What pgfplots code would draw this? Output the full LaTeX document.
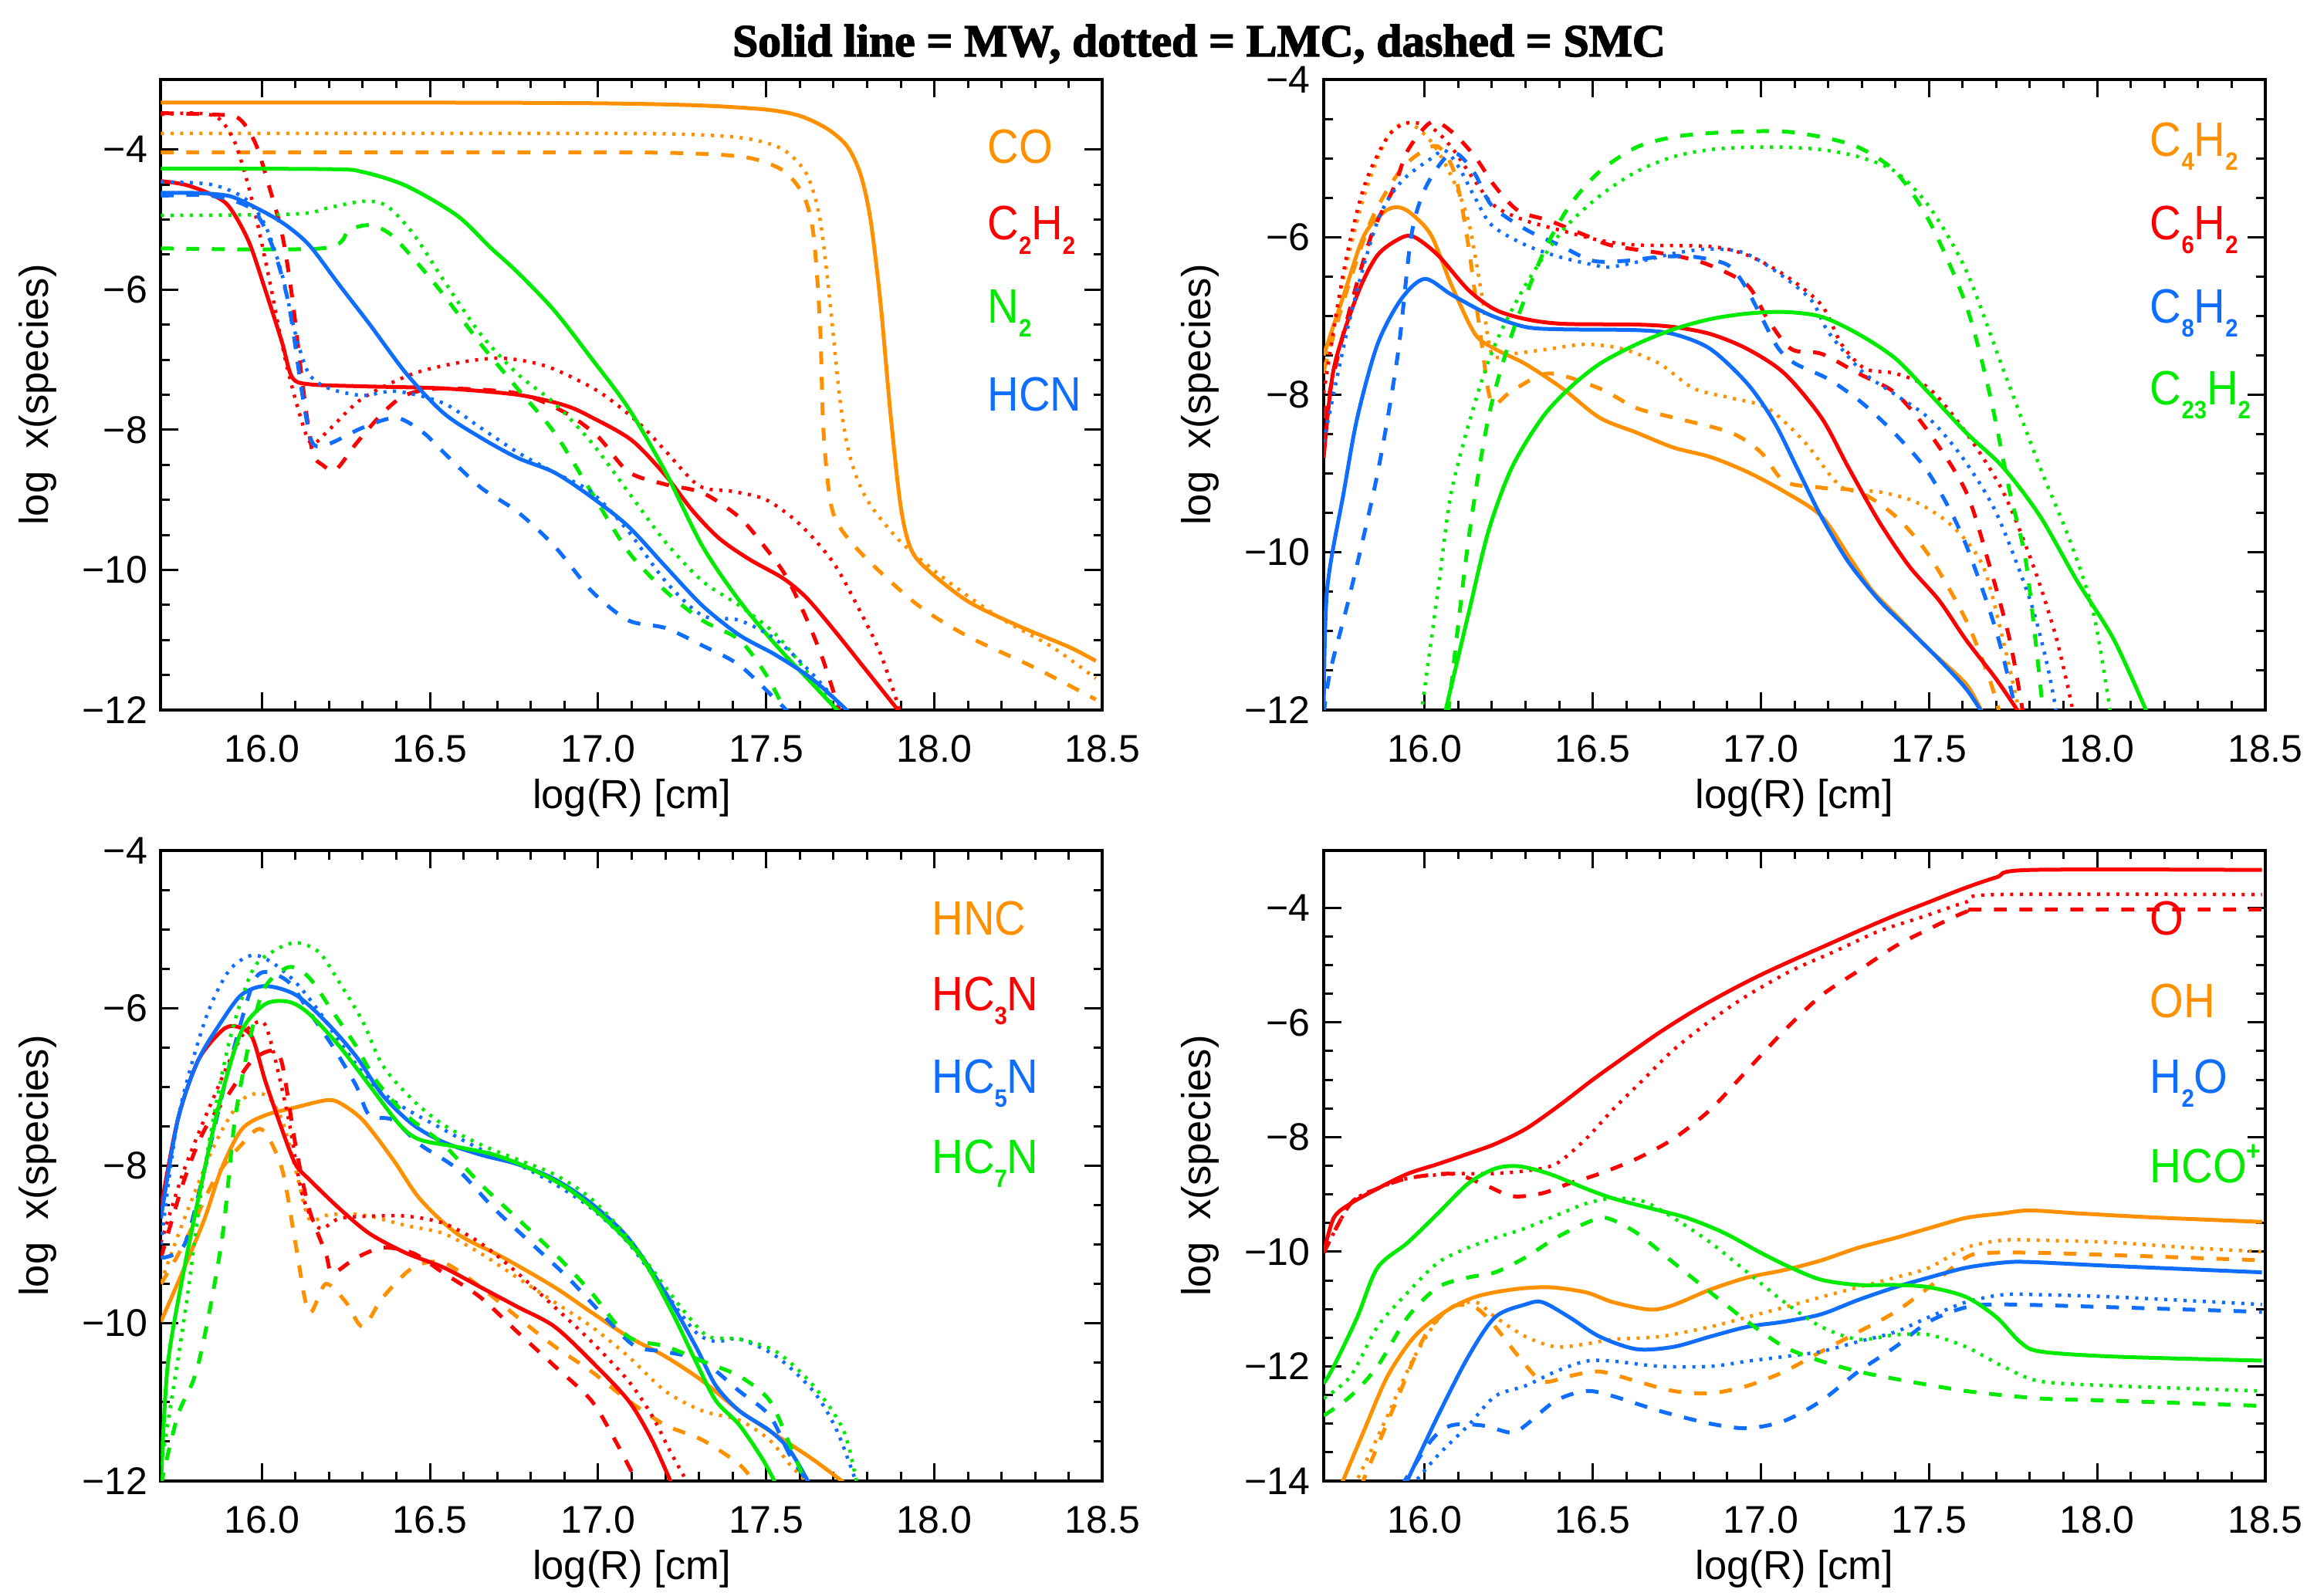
\documentclass[border=0pt]{standalone}
\usepackage{pgfplots}
\pgfplotsset{compat=1.18}
\usepackage{fontspec}
\setmainfont{Liberation Sans}
\newfontfamily\legfont[FakeStretch=0.9]{Liberation Sans}
\newfontfamily\titlefont[FakeBold=2.5]{Liberation Serif Bold}

\definecolor{cOr}{RGB}{255,145,0}
\definecolor{cRd}{RGB}{255,0,0}
\definecolor{cGr}{RGB}{0,235,0}
\definecolor{cBl}{RGB}{15,110,255}

\newcommand{\sbs}[1]{\raisebox{-0.55ex}{\fontsize{6.5}{6.5}\selectfont\bfseries #1}}
\newcommand{\sps}[1]{\raisebox{0.9ex}{\fontsize{7}{7}\selectfont\bfseries #1}}

\tikzset{lab/.style={anchor=west, inner sep=0pt, font=\legfont\fontsize{12.5}{12.5}\selectfont}}

\pgfplotsset{
  panel/.style={
    width=244pt, height=163.4pt, scale only axis,
    clip mode=individual,
    xmin=15.7, xmax=18.5,
    xtick={16,16.5,17,17.5,18,18.5},
    xticklabels={16.0,16.5,17.0,17.5,18.0,18.5},
    minor x tick num=4, minor y tick num=3,
    tick align=inside, xtick pos=both, ytick pos=both,
    major tick length=4.6pt, minor tick length=2.3pt,
    axis line style={line width=0.8pt},
    every tick/.style={black, line width=0.6pt},
    tick label style={font=\fontsize{10}{10}\selectfont},
    xticklabel style={yshift=-3pt},
    xlabel={log(R)\ [cm]}, ylabel={log\ \ x(species)},
    label style={font=\fontsize{10.5}{10.5}\selectfont},
    xlabel style={at={(axis description cs:0.5,-0.14)}, anchor=center},
    ylabel style={at={(axis description cs:-0.131,0.5)}, anchor=center},
  },
  ms/.style={line width=1pt, smooth, tension=0.5},
  ld/.style={line width=0.9pt, dash pattern=on 0.8pt off 1.7pt, smooth, tension=0.5},
  sd/.style={line width=1pt, dash pattern=on 3.3pt off 3.3pt, smooth, tension=0.5},
}

\begin{document}
\begin{tikzpicture}
\useasboundingbox (0,0) rectangle (597.8pt,413.6pt);

\node[font=\titlefont\fontsize{11.9}{11.9}\selectfont] at (310.7pt,402.2pt) {Solid line = MW, dotted = LMC, dashed = SMC};

% ---------------- panel 1: CO, C2H2, N2, HCN
\begin{axis}[panel, at={(41.7pt,229.6pt)}, anchor=south west,
  ymin=-12, ymax=-3, ytick={-12,-10,-8,-6,-4}, yticklabels={−12,−10,−8,−6,−4}]
\addplot[cOr, ms] coordinates {(15.7,-3.33) (16.5,-3.33) (17.0,-3.34) (17.3,-3.37) (17.5,-3.43) (17.6,-3.52) (17.68,-3.7) (17.74,-3.95) (17.78,-4.35) (17.81,-5.0) (17.84,-6.2) (17.87,-7.8) (17.9,-9.1) (17.93,-9.7) (17.98,-10.0) (18.1,-10.45) (18.25,-10.8) (18.4,-11.1) (18.48,-11.3)};
\addplot[cOr, ld] coordinates {(15.7,-3.77) (17.0,-3.77) (17.3,-3.79) (17.45,-3.85) (17.55,-4.0) (17.62,-4.35) (17.66,-5.0) (17.69,-6.2) (17.72,-7.6) (17.75,-8.4) (17.8,-9.0) (17.9,-9.6) (18.05,-10.2) (18.2,-10.7) (18.35,-11.1) (18.48,-11.55)};
\addplot[cOr, sd] coordinates {(15.7,-4.04) (17.0,-4.04) (17.3,-4.06) (17.45,-4.12) (17.55,-4.3) (17.61,-4.65) (17.64,-5.2) (17.66,-6.5) (17.67,-8.0) (17.69,-9.0) (17.72,-9.4) (17.8,-9.85) (17.95,-10.5) (18.1,-10.95) (18.3,-11.4) (18.48,-11.85)};
\addplot[cRd, ms] coordinates {(15.7,-4.45) (15.77,-4.5) (15.84,-4.62) (15.9,-4.8) (15.96,-5.3) (16.01,-6.0) (16.06,-6.75) (16.09,-7.25) (16.14,-7.35) (16.3,-7.38) (16.54,-7.41) (16.76,-7.5) (16.9,-7.65) (16.98,-7.82) (17.1,-8.15) (17.2,-8.65) (17.28,-9.15) (17.36,-9.55) (17.45,-9.85) (17.55,-10.12) (17.62,-10.4) (17.7,-10.85) (17.8,-11.45) (17.9,-12.05)};
\addplot[cRd, ld] coordinates {(15.7,-3.5) (15.8,-3.48) (15.87,-3.55) (15.92,-3.9) (15.97,-4.7) (16.02,-5.8) (16.07,-7.0) (16.12,-7.9) (16.15,-8.2) (16.2,-8.0) (16.3,-7.55) (16.45,-7.2) (16.6,-7.03) (16.72,-6.98) (16.85,-7.1) (17.0,-7.45) (17.12,-7.9) (17.2,-8.3) (17.3,-8.8) (17.4,-8.88) (17.5,-9.0) (17.6,-9.35) (17.7,-9.9) (17.78,-10.6) (17.84,-11.2) (17.9,-12.05)};
\addplot[cRd, sd] coordinates {(15.7,-3.48) (15.85,-3.5) (15.93,-3.55) (15.98,-3.9) (16.02,-4.5) (16.06,-5.2) (16.09,-6.1) (16.12,-7.3) (16.15,-8.3) (16.18,-8.5) (16.22,-8.57) (16.28,-8.2) (16.36,-7.76) (16.43,-7.5) (16.54,-7.41) (16.76,-7.48) (16.9,-7.75) (17.0,-8.1) (17.09,-8.6) (17.2,-8.78) (17.31,-8.9) (17.42,-9.25) (17.5,-9.7) (17.56,-10.1) (17.62,-10.7) (17.67,-11.3) (17.72,-12.05)};
\addplot[cGr, ms] coordinates {(15.7,-4.27) (16.2,-4.28) (16.3,-4.32) (16.43,-4.52) (16.58,-4.94) (16.68,-5.4) (16.76,-5.75) (16.87,-6.3) (16.98,-6.98) (17.09,-7.69) (17.2,-8.6) (17.31,-9.66) (17.42,-10.44) (17.53,-11.08) (17.64,-11.64) (17.72,-12.05)};
\addplot[cGr, ld] coordinates {(15.7,-4.94) (16.1,-4.92) (16.2,-4.83) (16.3,-4.74) (16.37,-4.8) (16.45,-5.2) (16.54,-5.86) (16.65,-6.63) (16.76,-7.2) (16.87,-7.62) (16.98,-8.18) (17.09,-8.89) (17.2,-9.6) (17.31,-10.16) (17.42,-10.51) (17.53,-10.93) (17.64,-11.57) (17.72,-12.05)};
\addplot[cGr, sd] coordinates {(15.7,-5.41) (16.18,-5.41) (16.26,-5.15) (16.32,-5.08) (16.38,-5.2) (16.45,-5.55) (16.54,-6.07) (16.65,-6.77) (16.76,-7.41) (16.87,-8.04) (16.98,-8.89) (17.09,-9.74) (17.2,-10.3) (17.31,-10.72) (17.42,-11.0) (17.5,-11.5) (17.56,-12.05)};
\addplot[cBl, ms] coordinates {(15.7,-4.62) (15.8,-4.62) (15.9,-4.66) (15.97,-4.8) (16.06,-5.04) (16.14,-5.36) (16.23,-5.93) (16.32,-6.49) (16.43,-7.2) (16.54,-7.76) (16.65,-8.11) (16.76,-8.4) (16.87,-8.61) (16.98,-8.96) (17.09,-9.38) (17.2,-9.95) (17.31,-10.51) (17.42,-10.93) (17.53,-11.22) (17.64,-11.57) (17.75,-12.05)};
\addplot[cBl, ld] coordinates {(15.7,-4.46) (15.85,-4.5) (15.95,-4.7) (16.01,-5.08) (16.06,-5.78) (16.1,-6.63) (16.14,-7.2) (16.2,-7.41) (16.3,-7.51) (16.4,-7.45) (16.54,-7.62) (16.65,-7.97) (16.76,-8.32) (16.87,-8.61) (16.98,-8.89) (17.09,-9.45) (17.2,-10.16) (17.31,-10.65) (17.42,-10.72) (17.53,-11.0) (17.64,-11.5) (17.74,-12.05)};
\addplot[cBl, sd] coordinates {(15.7,-4.66) (15.85,-4.66) (15.97,-4.85) (16.03,-5.36) (16.08,-6.21) (16.12,-7.48) (16.15,-8.18) (16.2,-8.2) (16.3,-7.97) (16.4,-7.83) (16.48,-8.04) (16.54,-8.32) (16.65,-8.82) (16.76,-9.17) (16.87,-9.66) (16.98,-10.3) (17.09,-10.72) (17.2,-10.83) (17.31,-11.08) (17.42,-11.36) (17.53,-11.86) (17.57,-12.05)};
\node[lab, text=cOr] at (rel axis cs:0.877,0.894) {CO};
\node[lab, text=cRd] at (rel axis cs:0.877,0.761) {C\sbs{2}H\sbs{2}};
\node[lab, text=cGr] at (rel axis cs:0.877,0.629) {N\sbs{2}};
\node[lab, text=cBl] at (rel axis cs:0.877,0.500) {HCN};
\end{axis}

% ---------------- panel 2: C4H2, C6H2, C8H2, C23H2
\begin{axis}[panel, at={(343pt,229.6pt)}, anchor=south west,
  ymin=-12, ymax=-4, ytick={-12,-10,-8,-6,-4}, yticklabels={−12,−10,−8,−6,−4}]
\addplot[cOr, ms] coordinates {(15.7,-7.5) (15.76,-6.73) (15.82,-5.98) (15.88,-5.68) (15.92,-5.62) (15.96,-5.7) (16.02,-5.98) (16.08,-6.61) (16.15,-7.23) (16.21,-7.42) (16.3,-7.61) (16.41,-7.92) (16.52,-8.29) (16.63,-8.48) (16.74,-8.67) (16.85,-8.79) (16.96,-8.98) (17.07,-9.23) (17.18,-9.54) (17.26,-10.04) (17.33,-10.48) (17.4,-10.79) (17.5,-11.23) (17.61,-11.67) (17.66,-12.05)};
\addplot[cOr, ld] coordinates {(15.7,-7.73) (15.76,-6.5) (15.82,-5.48) (15.89,-4.73) (15.95,-4.55) (16.02,-4.79) (16.08,-5.23) (16.13,-5.79) (16.17,-6.73) (16.2,-7.48) (16.26,-7.48) (16.37,-7.42) (16.48,-7.36) (16.59,-7.42) (16.7,-7.61) (16.8,-7.92) (16.91,-8.04) (17.02,-8.17) (17.13,-8.6) (17.24,-9.17) (17.35,-9.23) (17.46,-9.36) (17.57,-9.67) (17.66,-10.17) (17.72,-11.11) (17.77,-12.05)};
\addplot[cOr, sd] coordinates {(15.7,-7.7) (15.76,-6.8) (15.84,-5.8) (15.92,-5.2) (15.98,-4.95) (16.04,-4.85) (16.09,-5.2) (16.13,-6.1) (16.17,-7.36) (16.2,-8.1) (16.26,-7.95) (16.37,-7.73) (16.52,-7.92) (16.63,-8.17) (16.74,-8.29) (16.91,-8.48) (17.0,-8.73) (17.07,-9.1) (17.18,-9.18) (17.29,-9.23) (17.4,-9.54) (17.5,-10.04) (17.61,-10.86) (17.68,-11.61) (17.71,-12.05)};
\addplot[cRd, ms] coordinates {(15.7,-8.8) (15.73,-7.67) (15.8,-6.73) (15.86,-6.23) (15.93,-6.01) (15.97,-6.0) (16.04,-6.23) (16.13,-6.67) (16.21,-6.92) (16.3,-7.04) (16.41,-7.1) (16.63,-7.11) (16.74,-7.14) (16.85,-7.23) (16.96,-7.42) (17.07,-7.73) (17.18,-8.29) (17.26,-8.92) (17.35,-9.6) (17.44,-10.17) (17.53,-10.61) (17.61,-11.11) (17.7,-11.61) (17.77,-12.05)};
\addplot[cRd, ld] coordinates {(15.7,-7.98) (15.76,-6.42) (15.82,-5.36) (15.89,-4.73) (15.95,-4.55) (16.02,-4.61) (16.08,-4.86) (16.15,-5.29) (16.21,-5.61) (16.3,-5.79) (16.41,-5.92) (16.52,-6.04) (16.63,-6.1) (16.85,-6.12) (16.96,-6.23) (17.07,-6.48) (17.18,-6.86) (17.24,-7.36) (17.31,-7.67) (17.4,-7.73) (17.5,-7.92) (17.61,-8.48) (17.72,-9.23) (17.81,-10.17) (17.88,-11.11) (17.93,-12.05)};
\addplot[cRd, sd] coordinates {(15.7,-8.3) (15.76,-7.2) (15.84,-6.0) (15.91,-5.36) (15.95,-4.9) (16.02,-4.54) (16.08,-4.66) (16.15,-4.98) (16.21,-5.36) (16.28,-5.67) (16.37,-5.79) (16.48,-5.98) (16.56,-6.11) (16.74,-6.23) (16.85,-6.36) (16.96,-6.61) (17.02,-7.04) (17.09,-7.42) (17.18,-7.48) (17.29,-7.73) (17.4,-7.98) (17.5,-8.48) (17.61,-9.23) (17.68,-10.17) (17.74,-11.11) (17.78,-12.05)};
\addplot[cBl, ms] coordinates {(15.7,-12.05) (15.71,-10.48) (15.76,-9.23) (15.8,-8.29) (15.86,-7.36) (15.93,-6.79) (16.0,-6.53) (16.08,-6.73) (16.19,-6.98) (16.3,-7.14) (16.41,-7.17) (16.63,-7.18) (16.74,-7.23) (16.85,-7.42) (16.96,-7.86) (17.04,-8.35) (17.11,-8.95) (17.18,-9.55) (17.26,-10.12) (17.35,-10.6) (17.44,-10.98) (17.53,-11.36) (17.61,-11.73) (17.66,-12.05)};
\addplot[cBl, ld] coordinates {(15.7,-8.6) (15.78,-7.0) (15.86,-5.8) (15.93,-5.3) (16.02,-5.0) (16.06,-4.9) (16.1,-5.1) (16.15,-5.5) (16.2,-5.85) (16.3,-6.1) (16.4,-6.25) (16.5,-6.35) (16.55,-6.38) (16.65,-6.3) (16.75,-6.2) (16.85,-6.15) (16.95,-6.2) (17.05,-6.45) (17.15,-6.8) (17.2,-7.2) (17.3,-7.7) (17.4,-8.0) (17.5,-8.3) (17.6,-8.8) (17.7,-9.5) (17.8,-10.6) (17.85,-11.4) (17.88,-12.05)};
\addplot[cBl, sd] coordinates {(15.7,-12.05) (15.72,-11.5) (15.78,-10.5) (15.86,-9.0) (15.92,-7.5) (15.96,-6.0) (16.0,-5.4) (16.06,-5.0) (16.1,-4.95) (16.15,-5.2) (16.2,-5.6) (16.3,-5.9) (16.4,-6.1) (16.5,-6.3) (16.6,-6.3) (16.7,-6.25) (16.8,-6.25) (16.9,-6.35) (16.95,-6.6) (17.0,-7.0) (17.05,-7.4) (17.1,-7.6) (17.2,-7.8) (17.3,-8.1) (17.4,-8.5) (17.5,-9.0) (17.6,-9.8) (17.7,-11.0) (17.76,-12.05)};
\addplot[cGr, ms] coordinates {(16.06,-12.05) (16.13,-10.79) (16.19,-9.73) (16.26,-8.92) (16.35,-8.29) (16.43,-7.92) (16.52,-7.61) (16.63,-7.36) (16.74,-7.17) (16.85,-7.04) (16.96,-6.97) (17.07,-6.95) (17.18,-7.01) (17.29,-7.23) (17.4,-7.54) (17.5,-7.98) (17.61,-8.48) (17.72,-8.92) (17.83,-9.54) (17.94,-10.36) (18.05,-11.11) (18.15,-12.05)};
\addplot[cGr, ld] coordinates {(15.99,-12.05) (16.04,-10.48) (16.08,-9.23) (16.15,-8.1) (16.21,-7.36) (16.3,-6.61) (16.41,-5.92) (16.52,-5.48) (16.63,-5.17) (16.74,-4.98) (16.85,-4.89) (16.96,-4.86) (17.07,-4.86) (17.18,-4.89) (17.29,-4.98) (17.4,-5.17) (17.5,-5.61) (17.61,-6.42) (17.72,-7.67) (17.83,-8.92) (17.92,-9.86) (17.99,-10.79) (18.04,-12.05)};
\addplot[cGr, sd] coordinates {(16.07,-12.05) (16.13,-9.86) (16.19,-8.29) (16.26,-7.23) (16.35,-6.23) (16.43,-5.61) (16.52,-5.17) (16.63,-4.86) (16.74,-4.73) (16.85,-4.68) (16.96,-4.66) (17.07,-4.66) (17.18,-4.73) (17.29,-4.86) (17.4,-5.17) (17.5,-5.79) (17.61,-6.86) (17.68,-7.98) (17.74,-9.23) (17.79,-10.17) (17.84,-12.05)};
\node[lab, text=cOr] at (rel axis cs:0.877,0.894) {C\sbs{4}H\sbs{2}};
\node[lab, text=cRd] at (rel axis cs:0.877,0.761) {C\sbs{6}H\sbs{2}};
\node[lab, text=cBl] at (rel axis cs:0.877,0.629) {C\sbs{8}H\sbs{2}};
\node[lab, text=cGr] at (rel axis cs:0.877,0.500) {C\sbs{23}H\sbs{2}};
\end{axis}

% ---------------- panel 3: HNC, HC3N, HC5N, HC7N
\begin{axis}[panel, at={(41.7pt,29.8pt)}, anchor=south west,
  ymin=-12, ymax=-4, ytick={-12,-10,-8,-6,-4}, yticklabels={−12,−10,−8,−6,−4}]
\addplot[cOr, ms] coordinates {(15.7,-9.98) (15.77,-9.29) (15.83,-8.67) (15.88,-8.04) (15.94,-7.54) (16.01,-7.36) (16.1,-7.26) (16.19,-7.17) (16.23,-7.2) (16.3,-7.42) (16.39,-7.92) (16.47,-8.42) (16.58,-8.86) (16.72,-9.17) (16.87,-9.54) (16.98,-9.86) (17.09,-10.17) (17.2,-10.42) (17.31,-10.73) (17.42,-11.11) (17.53,-11.42) (17.64,-11.73) (17.74,-12.05)};
\addplot[cOr, ld] coordinates {(15.7,-9.48) (15.77,-8.67) (15.86,-7.73) (15.94,-7.17) (16.01,-7.1) (16.06,-7.42) (16.1,-8.04) (16.14,-8.67) (16.19,-8.63) (16.25,-8.61) (16.32,-8.64) (16.43,-8.76) (16.54,-8.86) (16.65,-9.11) (16.76,-9.42) (16.87,-9.73) (16.98,-10.04) (17.09,-10.42) (17.2,-10.86) (17.31,-11.11) (17.42,-11.23) (17.51,-11.48) (17.57,-11.79) (17.63,-12.05)};
\addplot[cOr, sd] coordinates {(15.7,-9.5) (15.77,-8.98) (15.86,-8.17) (15.94,-7.73) (16.0,-7.54) (16.06,-8.04) (16.1,-8.98) (16.14,-9.86) (16.19,-9.5) (16.25,-9.73) (16.3,-10.04) (16.36,-9.67) (16.45,-9.29) (16.54,-9.23) (16.65,-9.54) (16.76,-9.92) (16.87,-10.29) (16.98,-10.61) (17.09,-10.98) (17.2,-11.29) (17.31,-11.48) (17.42,-11.79) (17.47,-12.05)};
\addplot[cRd, ms] coordinates {(15.7,-8.54) (15.75,-7.42) (15.81,-6.67) (15.88,-6.29) (15.92,-6.23) (15.97,-6.36) (16.01,-6.92) (16.06,-7.54) (16.1,-7.98) (16.14,-8.17) (16.23,-8.54) (16.32,-8.86) (16.43,-9.11) (16.54,-9.29) (16.65,-9.54) (16.76,-9.79) (16.87,-10.04) (16.98,-10.48) (17.09,-10.98) (17.16,-11.48) (17.22,-12.05)};
\addplot[cRd, ld] coordinates {(15.7,-8.98) (15.77,-8.04) (15.86,-7.1) (15.94,-6.36) (16.0,-6.17) (16.03,-6.48) (16.08,-7.42) (16.12,-8.36) (16.17,-8.79) (16.23,-8.67) (16.32,-8.64) (16.43,-8.64) (16.54,-8.73) (16.65,-8.98) (16.76,-9.36) (16.87,-9.79) (16.98,-10.23) (17.09,-10.73) (17.16,-11.17) (17.22,-11.67) (17.27,-12.05)};
\addplot[cRd, sd] coordinates {(15.7,-9.17) (15.77,-8.17) (15.83,-7.54) (15.9,-7.1) (15.97,-6.67) (16.03,-6.54) (16.06,-6.7) (16.1,-7.73) (16.14,-8.54) (16.19,-9.11) (16.21,-9.36) (16.28,-9.17) (16.36,-9.04) (16.45,-9.11) (16.54,-9.36) (16.65,-9.67) (16.76,-10.11) (16.87,-10.54) (16.98,-10.98) (17.05,-11.48) (17.12,-12.05)};
\addplot[cBl, ms] coordinates {(15.7,-8.67) (15.75,-7.42) (15.81,-6.67) (15.88,-6.17) (15.94,-5.83) (16.01,-5.72) (16.1,-5.83) (16.19,-6.17) (16.28,-6.61) (16.36,-7.11) (16.45,-7.48) (16.54,-7.7) (16.65,-7.86) (16.76,-7.98) (16.87,-8.17) (16.98,-8.48) (17.09,-8.92) (17.2,-9.61) (17.29,-10.29) (17.35,-10.79) (17.42,-11.11) (17.51,-11.36) (17.57,-11.61) (17.63,-12.05)};
\addplot[cBl, ld] coordinates {(15.7,-9.0) (15.75,-7.42) (15.83,-6.17) (15.9,-5.54) (15.97,-5.33) (16.03,-5.42) (16.1,-5.67) (16.17,-6.04) (16.23,-6.42) (16.32,-6.92) (16.41,-7.23) (16.54,-7.54) (16.65,-7.79) (16.76,-7.98) (16.87,-8.23) (16.98,-8.54) (17.09,-8.98) (17.2,-9.61) (17.29,-10.11) (17.35,-10.23) (17.42,-10.2) (17.53,-10.42) (17.64,-10.86) (17.71,-11.36) (17.77,-12.05)};
\addplot[cBl, sd] coordinates {(15.7,-9.17) (15.77,-9.0) (15.83,-8.04) (15.9,-6.79) (15.97,-5.73) (16.01,-5.54) (16.08,-5.67) (16.14,-6.04) (16.21,-6.48) (16.28,-6.98) (16.32,-7.36) (16.39,-7.42) (16.47,-7.73) (16.58,-8.04) (16.69,-8.54) (16.8,-8.98) (16.91,-9.42) (17.02,-9.92) (17.11,-10.29) (17.2,-10.36) (17.31,-10.48) (17.42,-10.86) (17.51,-11.17) (17.57,-11.67) (17.63,-12.05)};
\addplot[cGr, ms] coordinates {(15.7,-12.05) (15.72,-10.54) (15.77,-9.29) (15.83,-8.04) (15.88,-7.11) (15.94,-6.29) (16.01,-5.95) (16.08,-5.92) (16.14,-6.07) (16.23,-6.48) (16.32,-6.98) (16.41,-7.48) (16.47,-7.67) (16.58,-7.76) (16.69,-7.86) (16.8,-8.04) (16.91,-8.29) (17.02,-8.67) (17.13,-9.17) (17.22,-9.86) (17.29,-10.48) (17.35,-10.98) (17.42,-11.29) (17.49,-11.73) (17.53,-12.05)};
\addplot[cGr, ld] coordinates {(15.7,-11.8) (15.77,-9.92) (15.83,-8.04) (15.9,-6.48) (15.97,-5.54) (16.03,-5.29) (16.1,-5.17) (16.17,-5.29) (16.23,-5.67) (16.3,-6.17) (16.36,-6.73) (16.45,-7.17) (16.54,-7.48) (16.65,-7.73) (16.76,-7.92) (16.87,-8.11) (16.98,-8.42) (17.09,-8.92) (17.2,-9.54) (17.27,-9.92) (17.33,-10.17) (17.42,-10.2) (17.53,-10.36) (17.64,-10.79) (17.73,-11.36) (17.77,-12.05)};
\addplot[cGr, sd] coordinates {(15.7,-12.05) (15.75,-11.17) (15.81,-10.54) (15.88,-8.98) (15.92,-7.42) (15.97,-6.29) (16.01,-5.73) (16.08,-5.48) (16.14,-5.61) (16.21,-6.04) (16.28,-6.48) (16.34,-6.92) (16.43,-7.36) (16.54,-7.73) (16.65,-8.23) (16.76,-8.67) (16.87,-9.11) (16.98,-9.61) (17.09,-10.17) (17.2,-10.29) (17.31,-10.48) (17.42,-10.67) (17.51,-10.98) (17.57,-11.54) (17.62,-12.05)};
\node[lab, text=cOr] at (rel axis cs:0.818,0.892) {HNC};
\node[lab, text=cRd] at (rel axis cs:0.818,0.761) {HC\sbs{3}N};
\node[lab, text=cBl] at (rel axis cs:0.818,0.631) {HC\sbs{5}N};
\node[lab, text=cGr] at (rel axis cs:0.818,0.503) {HC\sbs{7}N};
\end{axis}

% ---------------- panel 4: O, OH, H2O, HCO+
\begin{axis}[panel, at={(343pt,29.8pt)}, anchor=south west,
  ymin=-14, ymax=-3, ytick={-14,-12,-10,-8,-6,-4}, yticklabels={−14,−12,−10,−8,−6,−4}]
\addplot[cRd, ms] coordinates {(15.7,-10.02) (15.73,-9.41) (15.78,-9.16) (15.86,-8.9) (15.95,-8.64) (16.04,-8.47) (16.13,-8.29) (16.21,-8.12) (16.3,-7.86) (16.4,-7.45) (16.5,-7.0) (16.6,-6.58) (16.7,-6.17) (16.8,-5.8) (16.9,-5.47) (17.0,-5.17) (17.1,-4.9) (17.2,-4.64) (17.3,-4.38) (17.4,-4.13) (17.5,-3.9) (17.6,-3.67) (17.7,-3.47) (17.8,-3.34) (18.49,-3.34)};
\addplot[cRd, ld] coordinates {(15.7,-10.02) (15.78,-9.16) (15.86,-8.9) (15.95,-8.72) (16.08,-8.64) (16.19,-8.64) (16.3,-8.59) (16.39,-8.47) (16.48,-8.03) (16.56,-7.52) (16.65,-7.0) (16.74,-6.48) (16.85,-5.97) (16.96,-5.53) (17.09,-5.1) (17.22,-4.76) (17.35,-4.41) (17.48,-4.16) (17.61,-3.9) (17.7,-3.77) (18.49,-3.77)};
\addplot[cRd, sd] coordinates {(15.7,-10.02) (15.78,-9.16) (15.86,-8.9) (15.95,-8.72) (16.08,-8.64) (16.17,-8.81) (16.26,-9.03) (16.35,-8.98) (16.43,-8.81) (16.52,-8.64) (16.63,-8.38) (16.74,-8.03) (16.85,-7.52) (16.96,-6.83) (17.07,-6.14) (17.18,-5.53) (17.29,-5.1) (17.4,-4.67) (17.5,-4.37) (17.61,-4.07) (17.66,-4.03) (18.49,-4.03)};
\addplot[cOr, ms] coordinates {(15.75,-14.1) (15.82,-13.12) (15.89,-12.17) (15.97,-11.48) (16.06,-11.05) (16.15,-10.79) (16.26,-10.66) (16.37,-10.62) (16.48,-10.71) (16.56,-10.88) (16.67,-11.01) (16.74,-10.93) (16.85,-10.66) (16.96,-10.45) (17.07,-10.32) (17.18,-10.15) (17.29,-9.93) (17.4,-9.76) (17.5,-9.59) (17.61,-9.41) (17.72,-9.33) (17.8,-9.28) (17.94,-9.33) (18.16,-9.4) (18.49,-9.48)};
\addplot[cOr, ld] coordinates {(15.79,-14.1) (15.89,-12.86) (15.97,-11.83) (16.06,-11.05) (16.15,-10.88) (16.21,-11.14) (16.3,-11.48) (16.39,-11.66) (16.48,-11.61) (16.56,-11.53) (16.7,-11.48) (16.85,-11.31) (16.96,-11.14) (17.07,-10.97) (17.18,-10.79) (17.29,-10.62) (17.4,-10.45) (17.5,-10.28) (17.61,-9.93) (17.72,-9.8) (17.83,-9.8) (18.05,-9.84) (18.27,-9.93) (18.49,-10.0)};
\addplot[cOr, sd] coordinates {(15.81,-14.1) (15.91,-12.69) (16.0,-11.48) (16.08,-10.97) (16.15,-10.97) (16.21,-11.31) (16.28,-11.83) (16.35,-12.26) (16.43,-12.17) (16.52,-12.09) (16.63,-12.26) (16.74,-12.43) (16.85,-12.47) (16.96,-12.34) (17.07,-12.09) (17.18,-11.74) (17.29,-11.4) (17.4,-11.05) (17.5,-10.62) (17.61,-10.1) (17.68,-10.02) (17.83,-10.02) (18.05,-10.06) (18.49,-10.15)};
\addplot[cBl, ms] coordinates {(15.94,-14.1) (16.04,-12.86) (16.13,-11.83) (16.21,-11.14) (16.3,-10.92) (16.35,-10.88) (16.43,-11.14) (16.52,-11.48) (16.63,-11.7) (16.74,-11.66) (16.85,-11.48) (16.96,-11.31) (17.07,-11.22) (17.18,-11.09) (17.29,-10.84) (17.4,-10.62) (17.5,-10.45) (17.61,-10.28) (17.72,-10.19) (17.8,-10.18) (18.05,-10.25) (18.49,-10.36)};
\addplot[cBl, ld] coordinates {(15.96,-14.1) (16.04,-13.55) (16.13,-13.03) (16.21,-12.52) (16.3,-12.34) (16.39,-12.09) (16.48,-11.91) (16.56,-11.91) (16.7,-12.0) (16.85,-12.0) (16.96,-11.91) (17.07,-11.83) (17.18,-11.74) (17.29,-11.57) (17.4,-11.4) (17.5,-11.14) (17.61,-10.88) (17.72,-10.75) (17.83,-10.75) (18.05,-10.79) (18.49,-10.92)};
\addplot[cBl, sd] coordinates {(15.93,-14.1) (16.02,-13.29) (16.08,-13.03) (16.17,-13.03) (16.26,-13.16) (16.3,-13.03) (16.39,-12.6) (16.48,-12.43) (16.56,-12.52) (16.7,-12.78) (16.85,-13.0) (16.96,-13.08) (17.07,-12.95) (17.18,-12.6) (17.29,-12.09) (17.4,-11.66) (17.5,-11.22) (17.61,-10.97) (17.72,-10.92) (18.05,-10.97) (18.49,-11.05)};
\addplot[cGr, ms] coordinates {(15.7,-12.3) (15.73,-12.0) (15.8,-11.14) (15.86,-10.28) (15.95,-9.84) (16.04,-9.33) (16.13,-8.81) (16.21,-8.55) (16.28,-8.51) (16.37,-8.64) (16.48,-8.9) (16.56,-9.07) (16.67,-9.24) (16.78,-9.41) (16.89,-9.67) (17.0,-10.02) (17.09,-10.28) (17.18,-10.49) (17.29,-10.58) (17.4,-10.58) (17.5,-10.62) (17.61,-10.79) (17.7,-11.14) (17.77,-11.57) (17.83,-11.74) (18.05,-11.83) (18.49,-11.9)};
\addplot[cGr, ld] coordinates {(15.7,-12.56) (15.78,-12.17) (15.86,-11.31) (15.95,-10.71) (16.04,-10.19) (16.13,-9.93) (16.21,-9.76) (16.3,-9.59) (16.39,-9.37) (16.48,-9.16) (16.56,-9.07) (16.65,-9.12) (16.74,-9.41) (16.85,-9.84) (16.96,-10.36) (17.07,-10.88) (17.18,-11.31) (17.29,-11.53) (17.4,-11.45) (17.5,-11.45) (17.61,-11.66) (17.72,-12.0) (17.83,-12.26) (18.05,-12.34) (18.49,-12.43)};
\addplot[cGr, sd] coordinates {(15.7,-12.86) (15.78,-12.52) (15.86,-12.0) (15.95,-11.14) (16.04,-10.62) (16.13,-10.45) (16.21,-10.36) (16.3,-10.1) (16.39,-9.76) (16.48,-9.5) (16.54,-9.41) (16.63,-9.67) (16.74,-10.19) (16.85,-10.71) (16.96,-11.22) (17.07,-11.66) (17.18,-11.91) (17.29,-12.09) (17.4,-12.22) (17.61,-12.43) (17.83,-12.56) (18.05,-12.6) (18.49,-12.69)};
\node[lab, text=cRd] at (rel axis cs:0.877,0.892) {O};
\node[lab, text=cOr] at (rel axis cs:0.877,0.761) {OH};
\node[lab, text=cBl] at (rel axis cs:0.877,0.631) {H\sbs{2}O};
\node[lab, text=cGr] at (rel axis cs:0.877,0.503) {HCO\sps{+}};
\end{axis}
\end{tikzpicture}
\end{document}
